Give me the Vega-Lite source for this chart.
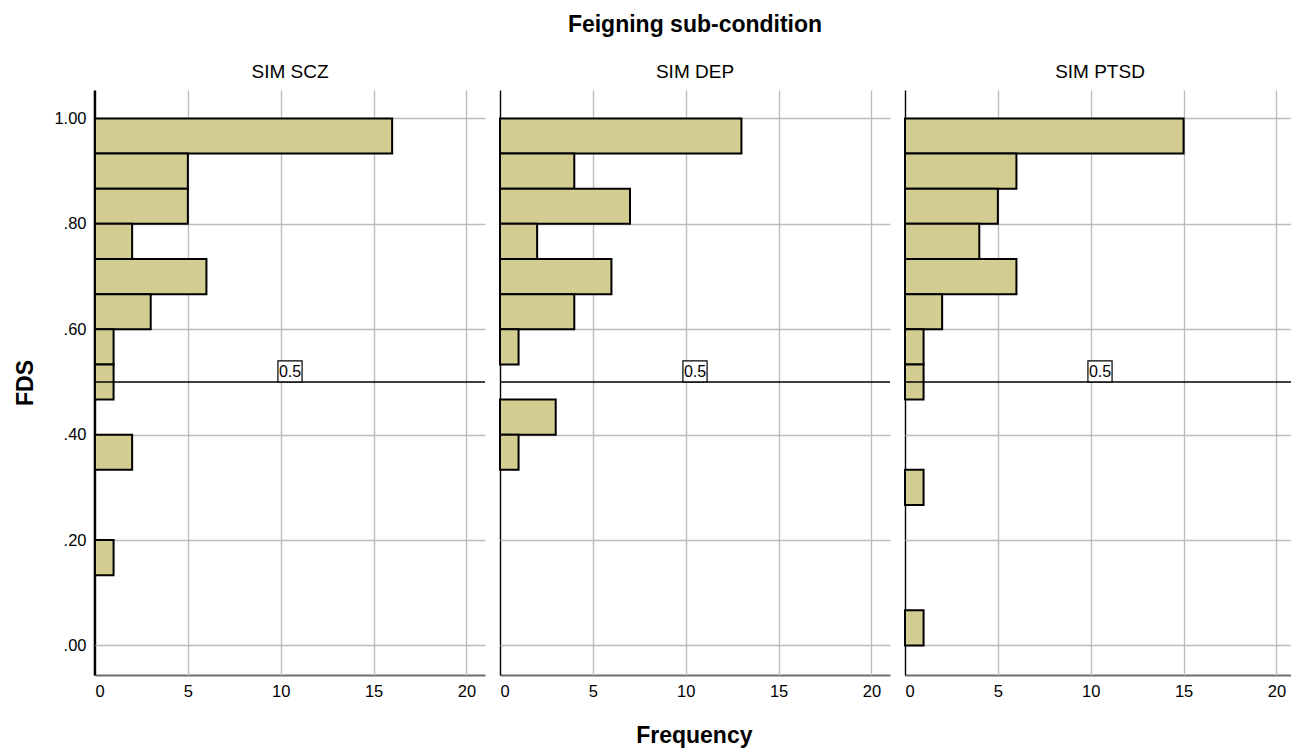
{
  "$schema": "https://vega.github.io/schema/vega-lite/v6.json",
  "background": "white",
  "padding": {"left": 14, "top": 14, "right": 0, "bottom": 0},
  "title": {
    "text": "Frequency",
    "orient": "bottom",
    "anchor": "middle",
    "font": "Liberation Sans",
    "fontSize": 23,
    "fontWeight": "bold",
    "color": "black",
    "offset": 25,
    "dx": 39
  },
  "data": {
    "values": [
      {"condition": "SIM SCZ", "lo": 0.93333, "hi": 1.0, "n": 16},
      {"condition": "SIM SCZ", "lo": 0.86667, "hi": 0.93333, "n": 5},
      {"condition": "SIM SCZ", "lo": 0.8, "hi": 0.86667, "n": 5},
      {"condition": "SIM SCZ", "lo": 0.73333, "hi": 0.8, "n": 2},
      {"condition": "SIM SCZ", "lo": 0.66667, "hi": 0.73333, "n": 6},
      {"condition": "SIM SCZ", "lo": 0.6, "hi": 0.66667, "n": 3},
      {"condition": "SIM SCZ", "lo": 0.53333, "hi": 0.6, "n": 1},
      {"condition": "SIM SCZ", "lo": 0.46667, "hi": 0.53333, "n": 1},
      {"condition": "SIM SCZ", "lo": 0.33333, "hi": 0.4, "n": 2},
      {"condition": "SIM SCZ", "lo": 0.13333, "hi": 0.2, "n": 1},
      {"condition": "SIM DEP", "lo": 0.93333, "hi": 1.0, "n": 13},
      {"condition": "SIM DEP", "lo": 0.86667, "hi": 0.93333, "n": 4},
      {"condition": "SIM DEP", "lo": 0.8, "hi": 0.86667, "n": 7},
      {"condition": "SIM DEP", "lo": 0.73333, "hi": 0.8, "n": 2},
      {"condition": "SIM DEP", "lo": 0.66667, "hi": 0.73333, "n": 6},
      {"condition": "SIM DEP", "lo": 0.6, "hi": 0.66667, "n": 4},
      {"condition": "SIM DEP", "lo": 0.53333, "hi": 0.6, "n": 1},
      {"condition": "SIM DEP", "lo": 0.4, "hi": 0.46667, "n": 3},
      {"condition": "SIM DEP", "lo": 0.33333, "hi": 0.4, "n": 1},
      {"condition": "SIM PTSD", "lo": 0.93333, "hi": 1.0, "n": 15},
      {"condition": "SIM PTSD", "lo": 0.86667, "hi": 0.93333, "n": 6},
      {"condition": "SIM PTSD", "lo": 0.8, "hi": 0.86667, "n": 5},
      {"condition": "SIM PTSD", "lo": 0.73333, "hi": 0.8, "n": 4},
      {"condition": "SIM PTSD", "lo": 0.66667, "hi": 0.73333, "n": 6},
      {"condition": "SIM PTSD", "lo": 0.6, "hi": 0.66667, "n": 2},
      {"condition": "SIM PTSD", "lo": 0.53333, "hi": 0.6, "n": 1},
      {"condition": "SIM PTSD", "lo": 0.46667, "hi": 0.53333, "n": 1},
      {"condition": "SIM PTSD", "lo": 0.26667, "hi": 0.33333, "n": 1},
      {"condition": "SIM PTSD", "lo": 0.0, "hi": 0.06667, "n": 1},
      {"condition": "SIM SCZ", "ref": 0.5, "label": "0.5"},
      {"condition": "SIM DEP", "ref": 0.5, "label": "0.5"},
      {"condition": "SIM PTSD", "ref": 0.5, "label": "0.5"}
    ]
  },
  "facet": {
    "column": {
      "field": "condition",
      "type": "nominal",
      "sort": ["SIM SCZ", "SIM DEP", "SIM PTSD"],
      "title": "Feigning sub-condition",
      "header": {
        "titleFont": "Liberation Sans",
        "titleFontSize": 23,
        "titleFontWeight": "bold",
        "titleColor": "black",
        "titlePadding": 16,
        "labelFont": "Liberation Sans",
        "labelFontSize": 19,
        "labelColor": "black",
        "labelPadding": 8
      }
    }
  },
  "spacing": 13,
  "spec": {
    "width": 390,
    "height": 585,
    "layer": [
      {
        "transform": [{"filter": "datum.n != null"}],
        "mark": {"type": "rect", "fill": "#d3cd92", "stroke": "black", "strokeWidth": 2},
        "encoding": {
          "x": {
            "field": "n",
            "type": "quantitative",
            "title": null,
            "scale": {"domain": [0, 21], "nice": false, "zero": true},
            "axis": {
              "values": [0, 5, 10, 15, 20],
              "ticks": false,
              "domainColor": "#6e6e6e",
              "domainWidth": 1.8,
              "gridColor": {"condition": {"test": "datum.value === 0", "value": "black"}, "value": "#bdbdbd"},
              "gridWidth": 1.4,
              "labelFont": "Liberation Sans",
              "labelFontSize": 16.5,
              "labelColor": "black",
              "labelPadding": 8
            }
          },
          "x2": {"datum": 0},
          "y": {
            "field": "lo",
            "type": "quantitative",
            "title": "FDS",
            "scale": {"domain": [-0.056, 1.054], "nice": false, "zero": false},
            "axis": {
              "values": [0, 0.2, 0.4, 0.6, 0.8, 1.0],
              "labelExpr": "replace(format(datum.value, '.2f'), '0.', '.')",
              "ticks": false,
              "domainColor": "black",
              "domainWidth": 1.6,
              "gridColor": "#bdbdbd",
              "gridWidth": 1.4,
              "labelFont": "Liberation Sans",
              "labelFontSize": 16.5,
              "labelColor": "black",
              "labelPadding": 8,
              "titleFont": "Liberation Sans",
              "titleFontSize": 23,
              "titleFontWeight": "bold",
              "titleColor": "black",
              "titlePadding": 16
            }
          },
          "y2": {"field": "hi"}
        }
      },
      {
        "transform": [{"filter": "datum.ref != null"}],
        "mark": {"type": "rule", "color": "black", "strokeWidth": 1.6},
        "encoding": {"y": {"field": "ref", "type": "quantitative"}}
      },
      {
        "transform": [{"filter": "datum.ref != null"}],
        "mark": {"type": "point", "shape": "M-1.15,-1H1.15V1H-1.15Z", "size": 441, "filled": true, "fill": "white", "stroke": "black", "strokeWidth": 1.2, "opacity": 1, "yOffset": -10.5},
        "encoding": {
          "x": {"datum": 10.5, "type": "quantitative"},
          "y": {"field": "ref", "type": "quantitative"}
        }
      },
      {
        "transform": [{"filter": "datum.ref != null"}],
        "mark": {"type": "text", "font": "Liberation Sans", "fontSize": 16, "color": "black", "align": "center", "baseline": "middle", "yOffset": -10},
        "encoding": {
          "x": {"datum": 10.5, "type": "quantitative"},
          "y": {"field": "ref", "type": "quantitative"},
          "text": {"field": "label"}
        }
      }
    ]
  },
  "config": {
    "view": {"stroke": null},
    "font": "Liberation Sans"
  }
}
